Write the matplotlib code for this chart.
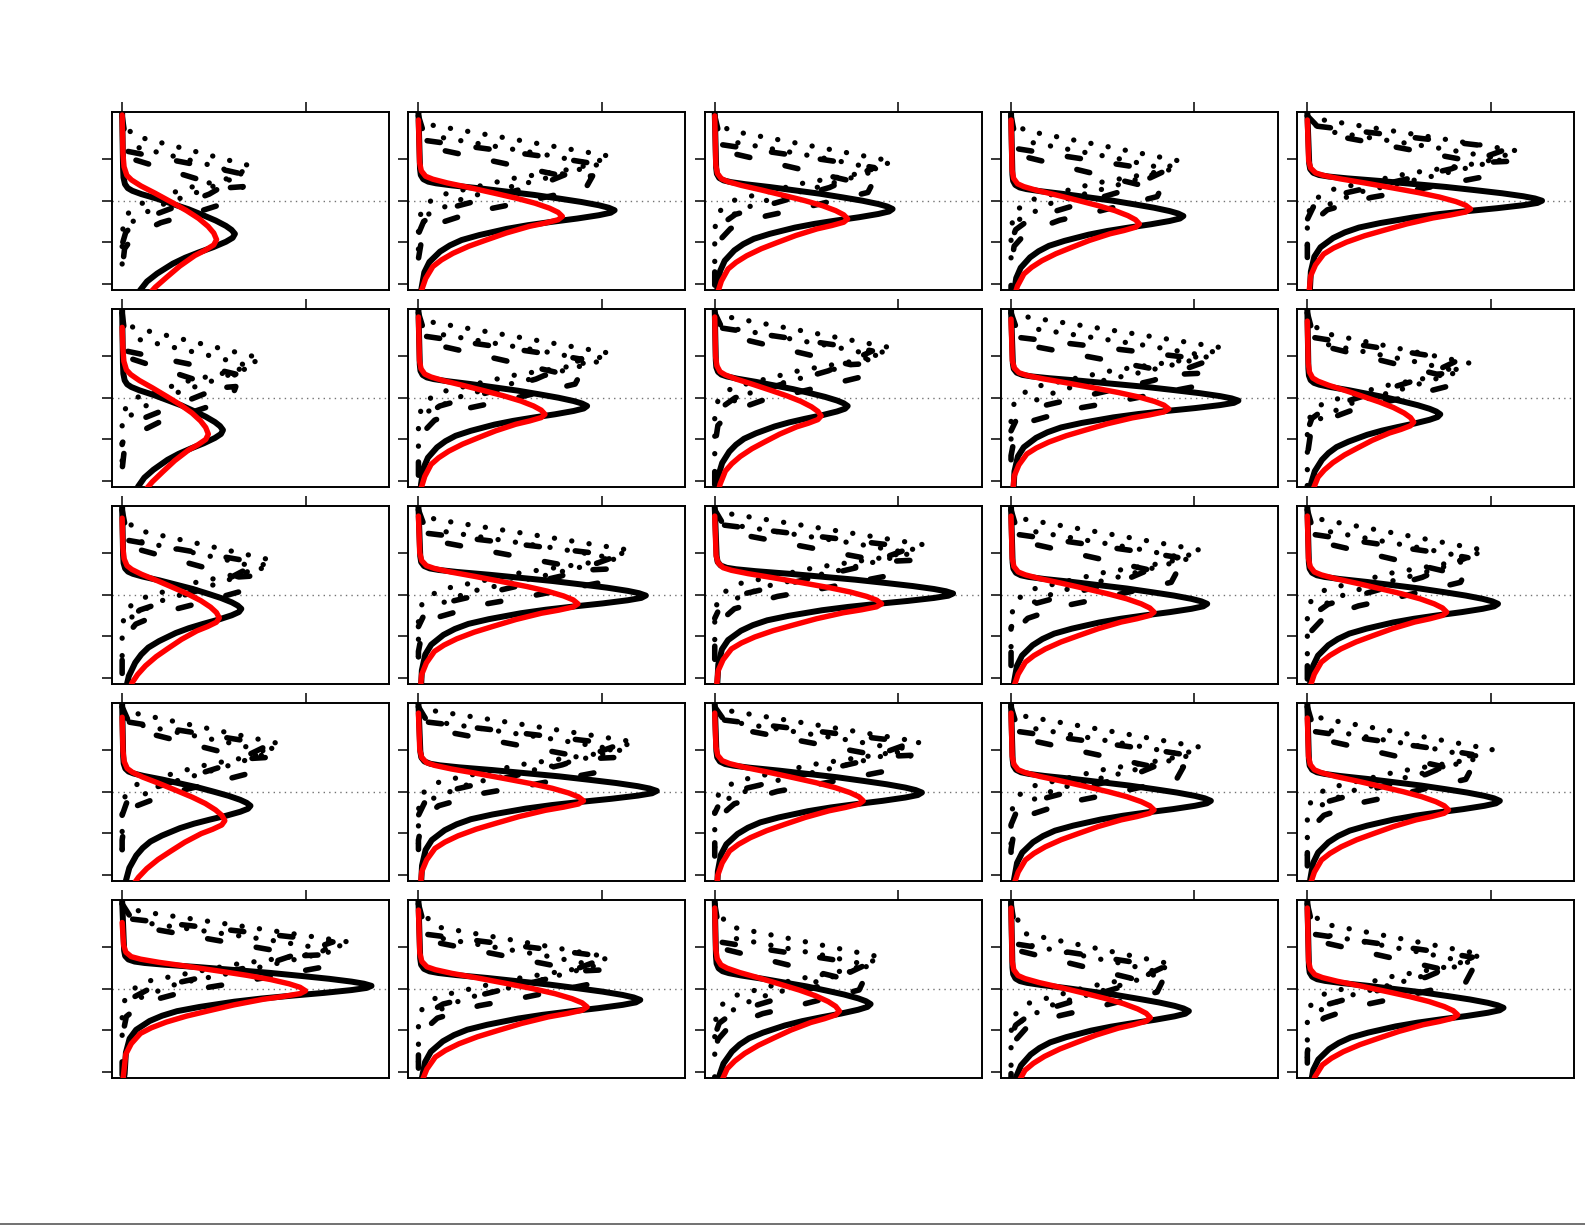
import matplotlib
matplotlib.use('Agg')
import matplotlib.pyplot as plt
from matplotlib.lines import Line2D

plt.rcParams['lines.scale_dashes'] = False

black_v = [1.0, 0.85, 0.75, 0.69, 0.65, 0.6, 0.53, 0.45, 0.37, 0.28, 0.2, 0.12, 0.06, 0.0,
           -0.06, -0.12, -0.2, -0.28, -0.36, -0.45, -0.6, -0.72, -0.85, -1.0, -1.25, -1.5, -1.9, -2.5]
black_u = [0.008, 0.012, 0.025, 0.05, 0.09, 0.17, 0.31, 0.45, 0.59, 0.72, 0.83, 0.92, 0.97, 1.0,
           0.98, 0.92, 0.81, 0.68, 0.56, 0.45, 0.31, 0.22, 0.16, 0.11, 0.056, 0.03, 0.015, 0.01]
# shape of the red profile
red_v = [1.3, 1.1, 0.97, 0.9, 0.81, 0.7, 0.56, 0.44, 0.32, 0.2, 0.1, 0.0,
         -0.08, -0.16, -0.24, -0.4, -0.57, -0.72, -0.89, -1.05, -1.21, -1.5, -1.8, -2.5]
red_u = [0.008, 0.02, 0.05, 0.1, 0.2, 0.35, 0.53, 0.68, 0.81, 0.91, 0.97, 1.0,
         0.97, 0.88, 0.77, 0.61, 0.47, 0.35, 0.24, 0.16, 0.1, 0.05, 0.02, 0.005]

# dashed profiles (u = fraction of tip x, v = height above tip), first point sits at the top
dash1_u = [0.0, 0.04, 0.07, 0.86, 1.0, 0.96, 0.56, 0.32, 0.1, 0.02, 0.0, 0.0]
dash1_v = [None, 0.9, 0.68, -0.03, 0.0, -0.3, -0.67, -0.87, -1.17, -1.5, -2.0, -3.0]
dash2_u = [0.05, 0.24, 0.88, 1.0, 0.72, 0.13, 0.03, 0.0]
dash2_v = [0.85, 0.74, 0.38, 0.3, -0.18, -0.83, -1.1, -1.4]
# dotted profiles
dot1_u = [0.0, 0.077, 0.5, 1.0, 0.83, 0.48, 0.1, 0.02, 0.0, 0.0]
dot1_v = [None, 0.75, 0.41, 0.0, -0.28, -0.54, -0.95, -1.23, -1.63, -2.6]
dot2_u = [0.13, 0.65, 0.93, 0.6, 0.24, 0.05]
dot2_v = [0.45, 0.05, -0.2, -0.6, -1.0, -1.4]

# per panel values (rows top to bottom, columns left to right)
black_x = [[0.615, 1.07, 0.97, 0.94, 1.28],
           [0.55, 0.92, 0.725, 1.24, 0.725],
           [0.65, 1.24, 1.30, 1.07, 1.04],
           [0.70, 1.30, 1.13, 1.09, 1.05],
           [1.36, 1.21, 0.85, 0.97, 1.07]]
black_y = [[1.2, 1.77, 1.8, 1.63, 2.0],
           [1.22, 1.8, 1.8, 1.93, 1.6],
           [1.66, 1.98, 2.03, 1.78, 1.78],
           [1.66, 2.02, 1.98, 1.78, 1.78],
           [2.07, 1.73, 1.63, 1.46, 1.54]]
black_w = [[1.6, 1.0, 1.0, 1.0, 0.9],
           [1.6, 1.0, 1.1, 0.9, 1.1],
           [1.3, 0.95, 0.9, 1.0, 1.0],
           [1.2, 0.95, 1.0, 1.0, 1.0],
           [0.85, 1.0, 1.15, 1.05, 1.0]]
red_x = [[0.515, 0.785, 0.725, 0.70, 0.89],
         [0.47, 0.69, 0.58, 0.86, 0.58],
         [0.53, 0.87, 0.91, 0.78, 0.76],
         [0.56, 0.90, 0.81, 0.78, 0.77],
         [1.0, 0.92, 0.68, 0.76, 0.82]]
red_y = [[1.06, 1.62, 1.56, 1.44, 1.8],
         [1.12, 1.6, 1.56, 1.73, 1.41],
         [1.44, 1.78, 1.78, 1.58, 1.58],
         [1.3, 1.78, 1.78, 1.56, 1.56],
         [1.95, 1.56, 1.46, 1.3, 1.37]]
red_w = [[1.6, 1.0, 1.0, 1.0, 0.9],
         [1.6, 1.0, 1.1, 0.9, 1.1],
         [1.3, 0.95, 0.9, 1.0, 1.0],
         [1.3, 0.95, 1.0, 1.0, 1.0],
         [0.85, 1.0, 1.15, 1.05, 1.0]]
red_top = [[4.07, 3.95, 4.05, 3.95, 3.95],
           [3.7, 3.95, 3.95, 3.9, 3.85],
           [3.85, 3.9, 3.9, 3.9, 3.9],
           [3.8, 3.9, 3.9, 3.9, 3.78],
           [3.6, 3.9, 3.95, 3.95, 3.95]]
dash_tx = [[0.66, 0.95, 0.87, 0.83, 1.09],
           [0.62, 0.89, 0.86, 1.08, 0.82],
           [0.74, 1.08, 1.07, 0.91, 0.87],
           [0.80, 1.09, 1.07, 0.94, 0.90],
           [1.15, 1.03, 0.82, 0.83, 0.90]]
dash_ty = [[2.34, 2.6, 2.5, 2.4, 2.95],
           [2.27, 2.63, 2.83, 2.6, 2.6],
           [2.46, 2.63, 2.83, 2.6, 2.6],
           [2.83, 2.83, 2.88, 2.6, 2.6],
           [2.83, 2.46, 2.27, 2.22, 2.46]]
dot_tx = [[0.71, 1.05, 0.97, 0.93, 1.15],
          [0.76, 1.05, 0.97, 1.16, 0.89],
          [0.82, 1.16, 1.15, 1.04, 0.97],
          [0.87, 1.18, 1.12, 1.04, 1.01],
          [1.25, 1.04, 0.91, 0.88, 0.95]]
dot_ty = [[2.83, 3.07, 2.95, 2.95, 3.2],
          [2.95, 3.07, 3.2, 3.2, 2.83],
          [2.83, 3.07, 3.2, 3.07, 3.07],
          [3.15, 3.2, 3.2, 3.07, 3.02],
          [3.12, 2.76, 2.76, 2.59, 2.83]]

TOP = 4.05


def profile(us, vs, px, py, scale=1.0):
    xs = [px * u for u in us]
    ys = [TOP if v is None else py + v * scale for v in vs]
    return xs, ys


fig = plt.figure(figsize=(15.85, 12.25), dpi=100)

left0, width, hstep = 0.0707, 0.1748, 0.18694
top0, height, vstep = 0.9088, 0.1453, 0.16082

for r in range(5):
    for c in range(5):
        ax = fig.add_axes([left0 + c * hstep, top0 - r * vstep - height, width, height])

        ax.axhline(2, color='0.45', lw=1, linestyle=(0, (1, 3)), zorder=1)

        for us, vs in [(dot1_u, dot1_v), (dot2_u, dot2_v)]:
            xs, ys = profile(us, vs, dot_tx[r][c], dot_ty[r][c])
            ax.plot(xs, ys, color='k', lw=3.8, linestyle=(0, (0.1, 12.5)),
                    dash_capstyle='round', zorder=2)
        for us, vs in [(dash1_u, dash1_v), (dash2_u, dash2_v)]:
            xs, ys = profile(us, vs, dash_tx[r][c], dash_ty[r][c])
            ax.plot(xs, ys, color='k', lw=4.0, linestyle=(0, (9.5, 26)),
                    dash_capstyle='round', zorder=3)

        xs, ys = profile(black_u, black_v, black_x[r][c], black_y[r][c], black_w[r][c])
        ax.plot([0.0] + xs + [0.0], [4.12] + ys + [-0.4], color='k', lw=4.3,
                solid_capstyle='round', solid_joinstyle='round', zorder=4)
        xs, ys = profile(red_u, red_v, red_x[r][c], red_y[r][c], red_w[r][c])
        ax.plot([0.0] + xs + [0.0], [red_top[r][c]] + ys + [-0.4], color='#ff0000', lw=3.9,
                solid_capstyle='round', solid_joinstyle='round', zorder=5)

        ax.set_xlim(-0.055, 1.456)
        ax.set_ylim(-0.15, 4.15)
        ax.set_xticks([0, 1])
        ax.set_yticks([0, 1, 2, 3])
        ax.tick_params(axis='x', which='both', top=True, bottom=False, labeltop=False,
                       labelbottom=False, direction='out', length=7, width=1.1)
        ax.tick_params(axis='y', which='both', left=True, right=False, labelleft=False,
                       direction='out', length=7, width=1.1)
        for sp in ax.spines.values():
            sp.set_linewidth(1.4)
            sp.set_color('k')

# thin strip along the bottom edge of the picture
fig.add_artist(Line2D([0, 1], [0.0012, 0.0012], color='0.35', lw=1.2))

fig.savefig('out.png', dpi=100)
